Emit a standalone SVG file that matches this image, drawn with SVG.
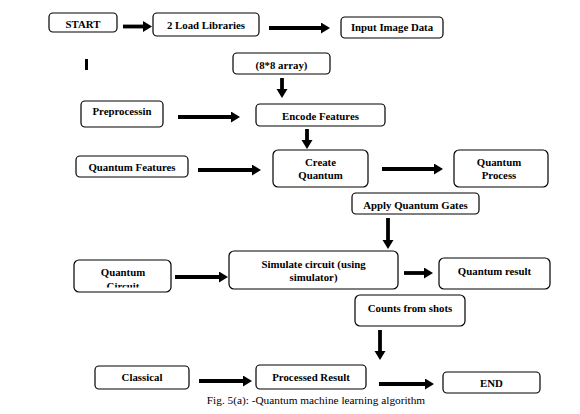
<svg xmlns="http://www.w3.org/2000/svg" width="580" height="414" viewBox="0 0 580 414">
<style>
.box{fill:#fff;stroke:#000;stroke-width:1.2}
.c{stroke:#000;stroke-width:3.8;fill:none;marker-end:url(#ah)}
</style>
<defs>
<marker id="ah" markerUnits="userSpaceOnUse" markerWidth="10" markerHeight="12" refX="0" refY="5.5" orient="auto">
<path d="M0,0 L9,5.5 L0,11 z" fill="#000"/>
</marker>
<clipPath id="qcclip"><rect x="70" y="255" width="110" height="32.5"/></clipPath>
</defs>
<rect x="0" y="0" width="580" height="414" fill="#fff"/>
<g id="connectors">
<line class="c" x1="123" y1="26.5" x2="143" y2="26.5"/>
<line class="c" x1="269" y1="28" x2="321" y2="28"/>
<line class="c" x1="282" y1="78" x2="282" y2="89"/>
<line class="c" x1="178" y1="117" x2="231" y2="117"/>
<line class="c" x1="307" y1="129" x2="307" y2="140"/>
<line class="c" x1="198" y1="170" x2="252" y2="170"/>
<line class="c" x1="382" y1="169" x2="434" y2="169"/>
<line class="c" x1="388" y1="218" x2="388" y2="240"/>
<line class="c" x1="175" y1="277" x2="219" y2="277"/>
<line class="c" x1="404" y1="273" x2="424" y2="273"/>
<line class="c" x1="380" y1="330" x2="380" y2="351"/>
<line class="c" x1="199" y1="381" x2="243" y2="381"/>
<line class="c" x1="379" y1="384" x2="425" y2="384"/>
</g>
<rect x="85" y="59" width="3" height="11" fill="#000"/>
<g font-family="Liberation Serif, Times New Roman, DejaVu Serif, serif" font-weight="bold" font-size="10.8" text-anchor="middle" fill="#000">
<g id="start"><rect class="box" x="49" y="13" width="68" height="19" rx="4"/><text x="83" y="27.5">START</text></g>
<g id="load"><rect class="box" x="153" y="13" width="106" height="23" rx="4"/><text x="206" y="28.5">2 Load Libraries</text></g>
<g id="input"><rect class="box" x="341" y="17" width="102" height="21" rx="4"/><text x="392" y="30.5">Input Image Data</text></g>
<g id="array"><rect class="box" x="233" y="53" width="97" height="21" rx="4"/><text x="281.5" y="68.5">(8*8 array)</text></g>
<g id="prep"><rect class="box" x="81" y="101" width="82" height="26" rx="4"/><text x="122" y="114.5">Preprocessin</text></g>
<g id="encode"><rect class="box" x="256" y="104" width="129" height="22" rx="4"/><text x="320.5" y="119.5">Encode Features</text></g>
<g id="qfeat"><rect class="box" x="76" y="156" width="112" height="21" rx="4"/><text x="132" y="170.5">Quantum Features</text></g>
<g id="create"><rect class="box" x="273" y="150" width="95" height="37" rx="5"/><text x="320.5" y="165.5">Create</text><text x="320.5" y="178.5">Quantum</text></g>
<g id="qproc"><rect class="box" x="454" y="150" width="94" height="37" rx="5"/><text x="499" y="165.5">Quantum</text><text x="499" y="178.5">Process</text></g>
<g id="gates"><rect class="box" x="352" y="193" width="127" height="21" rx="4"/><text x="415.5" y="208.5">Apply Quantum Gates</text></g>
<g id="sim"><rect class="box" x="229" y="251" width="169" height="38" rx="5"/><text x="313.5" y="267.5">Simulate circuit (using</text><text x="313.5" y="280.5">simulator)</text></g>
<g id="qcirc"><rect class="box" x="74" y="260" width="97" height="32" rx="5"/><text x="123" y="275.5">Quantum</text><text x="123" y="290" clip-path="url(#qcclip)">Circuit</text></g>
<g id="qres"><rect class="box" x="439" y="258" width="111" height="31" rx="5"/><text x="494.5" y="274.5">Quantum result</text></g>
<g id="counts"><rect class="box" x="355" y="295" width="110" height="31" rx="5"/><text x="410" y="311.5">Counts from shots</text></g>
<g id="classical"><rect class="box" x="95" y="366" width="94" height="23" rx="4"/><text x="142" y="380.5">Classical</text></g>
<g id="processed"><rect class="box" x="256" y="365" width="110" height="24" rx="4"/><text x="311" y="380.5">Processed Result</text></g>
<g id="end"><rect class="box" x="443" y="372" width="97" height="21" rx="4"/><text x="491.5" y="386.5">END</text></g>
</g>
<text x="316" y="404" font-family="Liberation Serif, Times New Roman, DejaVu Serif, serif" font-size="11.3" text-anchor="middle" fill="#000">Fig. 5(a): -Quantum machine learning algorithm</text>
</svg>
